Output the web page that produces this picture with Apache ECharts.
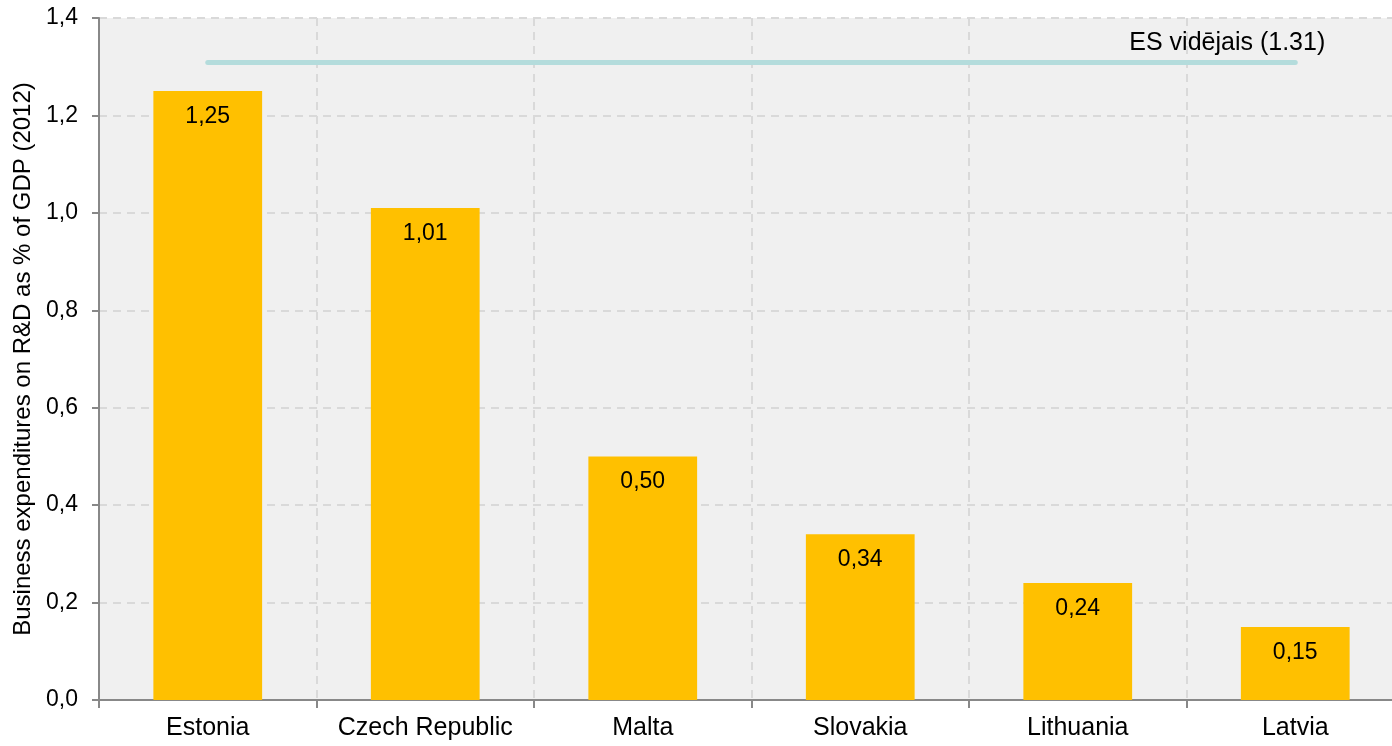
<!DOCTYPE html>
<html>
<head>
<meta charset="utf-8">
<script src="https://cdn.jsdelivr.net/npm/echarts@6/dist/echarts.min.js"></script>
<style>
  html, body { margin: 0; padding: 0; background: #fff; overflow: hidden; }
  /* the plot runs a bit past the right edge of the picture, like the original */
  #chart { width: 1404px; height: 746px; }
</style>
</head>
<body>
<div id="chart"></div>
<script>
// data
const countries = ['Estonia', 'Czech Republic', 'Malta', 'Slovakia', 'Lithuania', 'Latvia'];
const berdValues = [1.25, 1.01, 0.50, 0.34, 0.24, 0.15];
const euAverage = 1.31;
const euAverageLabel = 'ES vidējais (1.31)';
const yTicks = [0, 0.2, 0.4, 0.6, 0.8, 1.0, 1.2, 1.4];

const font = 'Liberation Sans, Arial, sans-serif';
const commaFmt = (v, d) => v.toFixed(d).replace('.', ',');

const chart = echarts.init(document.getElementById('chart'));

const option = {
    animation: false,
    textStyle: {fontFamily: font},
    grid: {
        left: 99,
        right: 0,
        top: 18,
        bottom: 46,
        show: true,
        backgroundColor: '#f0f0f0',
        borderWidth: 0
    },
    xAxis: {
        type: 'category',
        data: countries,
        axisLine: {lineStyle: {color: '#888888', width: 2}},
        axisTick: {show: true, interval: 0, length: 8, lineStyle: {color: '#888888', width: 2}},
        axisLabel: {color: '#000', fontSize: 25, margin: 16, interval: 0, fontFamily: font},
        splitLine: {show: true, interval: 0, lineStyle: {color: '#d9d9d9', type: [8, 6], width: 2}}
    },
    yAxis: {
        type: 'value',
        min: yTicks[0],
        max: yTicks[yTicks.length - 1],
        interval: 0.2,
        name: 'Business expenditures on R&D as % of GDP (2012)',
        nameLocation: 'middle',
        nameGap: 62,
        nameRotate: 90,
        nameTextStyle: {color: '#000', fontSize: 24, fontFamily: font},
        axisLine: {show: true, lineStyle: {color: '#888888', width: 2}},
        axisTick: {show: true, length: 7, lineStyle: {color: '#888888', width: 2}},
        axisLabel: {color: '#000', fontSize: 23, margin: 21, fontFamily: font, formatter: v => commaFmt(v, 1)},
        splitLine: {show: true, lineStyle: {color: '#d9d9d9', type: [8, 6], width: 2}}
    },
    series: [{
        type: 'bar',
        data: berdValues,
        barWidth: '50%',
        itemStyle: {color: '#ffc000'},
        label: {
            show: true,
            position: 'insideTop',
            distance: 14,
            color: '#000',
            fontSize: 23,
            fontFamily: font,
            formatter: p => commaFmt(p.value, 2)
        },
        markLine: {
            symbol: 'none',
            silent: true,
            lineStyle: {color: '#b4dcdc', width: 5, type: 'solid', cap: 'round'},
            label: {
                show: true,
                position: 'insideEndTop',
                formatter: euAverageLabel,
                color: '#000',
                fontSize: 25,
                fontFamily: font,
                distance: [-30, 6]
            },
            data: [[
                {coord: [countries[0], euAverage]},
                {coord: [countries[countries.length - 1], euAverage]}
            ]]
        }
    }]
};

chart.setOption(option);
</script>
</body>
</html>
